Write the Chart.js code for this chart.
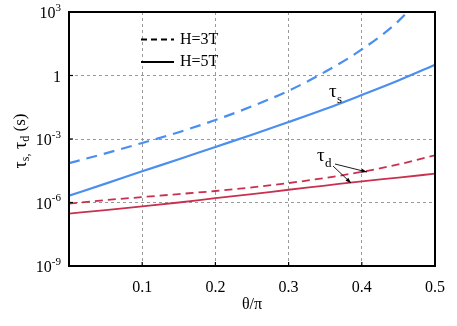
<!DOCTYPE html>
<html><head><meta charset="utf-8">
<script src="https://cdn.jsdelivr.net/npm/chart.js@4.4.1/dist/chart.umd.min.js"></script>
<style>html,body{margin:0;padding:0;background:#fff;}canvas{display:block;}</style>
</head><body>
<canvas id="c" width="457" height="326"></canvas>
<script>
// ---- data ----
const theta   = [0, 0.05, 0.1, 0.15, 0.2, 0.25, 0.3, 0.35, 0.4, 0.45, 0.5];
const tauS_H3 = [7.2e-5, 2.1e-4, 6.5e-4, 2.1e-3, 7.9e-3, 3.5e-2, 0.19, 1.5, 17, 370, 3.0e4];
const tauS_H5 = [2.1e-6, 7.8e-6, 3.0e-5, 1.1e-4, 4.2e-4, 1.6e-3, 6.3e-3, 2.6e-2, 0.12, 0.58, 3.2];
const tauD_H3 = [8.9e-7, 1.3e-6, 1.8e-6, 2.5e-6, 3.5e-6, 5.2e-6, 8.3e-6, 1.45e-5, 2.8e-5, 6.3e-5, 1.7e-4];
const tauD_H5 = [3.0e-7, 4.4e-7, 6.6e-7, 1.0e-6, 1.6e-6, 2.5e-6, 4.0e-6, 6.3e-6, 1.0e-5, 1.5e-5, 2.3e-5];
const xTickValues = [0.1, 0.2, 0.3, 0.4, 0.5];
const yTickValues = [1e-9, 1e-6, 1e-3, 1, 1e3];
const yTickBase   = ['10', '10', '10', '1', '10'];
const yTickSup    = ['-9', '-6', '-3', '', '3'];
const legendLabels = ['H=3T', 'H=5T'];
const xTitle = 'θ/π';

const BLUE = '#4a8ff0';
const RED  = '#c9304f';
const SERIF = '"Liberation Serif", "Times New Roman", serif';

function pts(ys){ return theta.map((x,i)=>({x:x, y:ys[i]})); }

const deco = {
  id: 'deco',
  afterDraw(chart){
    const ctx = chart.ctx, a = chart.chartArea;
    const xs = chart.scales.x, ys = chart.scales.y;
    ctx.save();
    // inner tick marks
    ctx.strokeStyle = '#000'; ctx.lineWidth = 1.2; ctx.setLineDash([]);
    xTickValues.forEach(v=>{ const px = xs.getPixelForValue(v); ctx.beginPath(); ctx.moveTo(px, a.bottom); ctx.lineTo(px, a.bottom-4); ctx.stroke(); });
    yTickValues.forEach(v=>{ const py = ys.getPixelForValue(v); ctx.beginPath(); ctx.moveTo(a.left, py); ctx.lineTo(a.left+4, py); ctx.stroke(); });
    // frame
    ctx.lineWidth = 2; ctx.strokeStyle = '#000';
    ctx.strokeRect(a.left, a.top, a.right-a.left, a.bottom-a.top);
    // y tick labels with superscripts
    ctx.fillStyle = '#000';
    yTickValues.forEach((v,i)=>{
      const py = ys.getPixelForValue(v) + 1;
      ctx.font = '16px ' + SERIF;
      const wb = ctx.measureText(yTickBase[i]).width;
      ctx.font = '11px ' + SERIF;
      const wsup = yTickSup[i] ? ctx.measureText(yTickSup[i]).width : 0;
      const right = a.left - 8;
      ctx.textBaseline = 'middle'; ctx.textAlign = 'left';
      ctx.font = '16px ' + SERIF;
      ctx.fillText(yTickBase[i], right - wb - wsup, py + 1);
      if (yTickSup[i]) { ctx.font = '11px ' + SERIF; ctx.fillText(yTickSup[i], right - wsup, py - 5); }
    });
    // y title: τs, τd (s)
    ctx.save();
    ctx.translate(21, (a.top + a.bottom)/2 + 2);
    ctx.rotate(-Math.PI/2);
    const parts = [['τ',18,0],['s,',12,5],[' τ',18,0],['d',12,5],[' (s)',17,0]];
    let tw = 0;
    parts.forEach(p=>{ ctx.font = p[1]+'px '+SERIF; tw += ctx.measureText(p[0]).width; });
    let cx = -tw/2;
    ctx.textBaseline = 'middle'; ctx.textAlign = 'left';
    parts.forEach(p=>{ ctx.font = p[1]+'px '+SERIF; ctx.fillText(p[0], cx, p[2]); cx += ctx.measureText(p[0]).width; });
    ctx.restore();
    // legend
    ctx.lineWidth = 2; ctx.strokeStyle = '#000';
    ctx.setLineDash([6,4]);
    ctx.beginPath(); ctx.moveTo(141, 39.5); ctx.lineTo(174, 39.5); ctx.stroke();
    ctx.setLineDash([]);
    ctx.beginPath(); ctx.moveTo(141, 62); ctx.lineTo(174, 62); ctx.stroke();
    ctx.font = '16px ' + SERIF; ctx.textBaseline = 'middle'; ctx.textAlign = 'left';
    ctx.fillText(legendLabels[0], 180, 40);
    ctx.fillText(legendLabels[1], 180, 62);
    // annotations
    ctx.font = '19px ' + SERIF; ctx.textBaseline = 'alphabetic';
    ctx.fillText('τ', 329, 97);
    ctx.font = '13px ' + SERIF; ctx.fillText('s', 337, 103);
    ctx.font = '19px ' + SERIF; ctx.fillText('τ', 317, 161);
    ctx.font = '13px ' + SERIF; ctx.fillText('d', 325, 167);
    // arrows
    function arrow(x1,y1,x2,y2){
      ctx.lineWidth = 0.9; ctx.beginPath(); ctx.moveTo(x1,y1); ctx.lineTo(x2,y2); ctx.stroke();
      const ang = Math.atan2(y2-y1, x2-x1), L = 6, w = 0.35;
      ctx.beginPath(); ctx.moveTo(x2,y2);
      ctx.lineTo(x2 - L*Math.cos(ang-w), y2 - L*Math.sin(ang-w));
      ctx.lineTo(x2 - L*Math.cos(ang+w), y2 - L*Math.sin(ang+w));
      ctx.closePath(); ctx.fill();
    }
    arrow(335, 164, 367, 172);
    arrow(333, 166, 351, 183);
    ctx.restore();
  }
};

new Chart(document.getElementById('c'), {
  type: 'line',
  data: { datasets: [
    { label: 'τs H=3T', data: pts(tauS_H3), borderColor: BLUE, borderWidth: 2.2, borderDash: [11,7], pointRadius: 0, cubicInterpolationMode: 'monotone', clip: 0 },
    { label: 'τs H=5T', data: pts(tauS_H5), borderColor: BLUE, borderWidth: 2.2, pointRadius: 0, cubicInterpolationMode: 'monotone', clip: 0 },
    { label: 'τd H=3T', data: pts(tauD_H3), borderColor: RED, borderWidth: 1.8, borderDash: [8,5], pointRadius: 0, cubicInterpolationMode: 'monotone', clip: 0 },
    { label: 'τd H=5T', data: pts(tauD_H5), borderColor: RED, borderWidth: 1.8, pointRadius: 0, cubicInterpolationMode: 'monotone', clip: 0 }
  ]},
  options: {
    responsive: false, animation: false, devicePixelRatio: 1,
    layout: { padding: { left: 0, top: 12, right: 21, bottom: 0 } },
    plugins: { legend: { display: false }, tooltip: { enabled: false } },
    scales: {
      x: {
        type: 'linear', min: 0, max: 0.5,
        afterBuildTicks: s => { s.ticks = [0].concat(xTickValues).map(v=>({value:v})); },
        afterFit: s => { s.height = 60; },
        ticks: { padding: 12, color: '#000', font: { family: SERIF, size: 16 }, maxRotation: 0,
                 callback: v => v === 0 ? '' : v.toFixed(1) },
        grid: { drawTicks: false, color: '#9a9a9a', lineWidth: 1 },
        border: { display: false, dash: [3,3] },
        title: { display: true, text: xTitle, color: '#000', font: { family: SERIF, size: 16 }, padding: { top: 0, bottom: 12 } }
      },
      y: {
        type: 'logarithmic', min: 1e-9, max: 1e3,
        afterBuildTicks: s => { s.ticks = yTickValues.map(v=>({value:v})); },
        afterFit: s => { s.width = 69; },
        ticks: { display: false },
        grid: { drawTicks: false, color: '#9a9a9a', lineWidth: 1 },
        border: { display: false, dash: [3,3] }
      }
    }
  },
  plugins: [deco]
});
</script>
</body></html>
